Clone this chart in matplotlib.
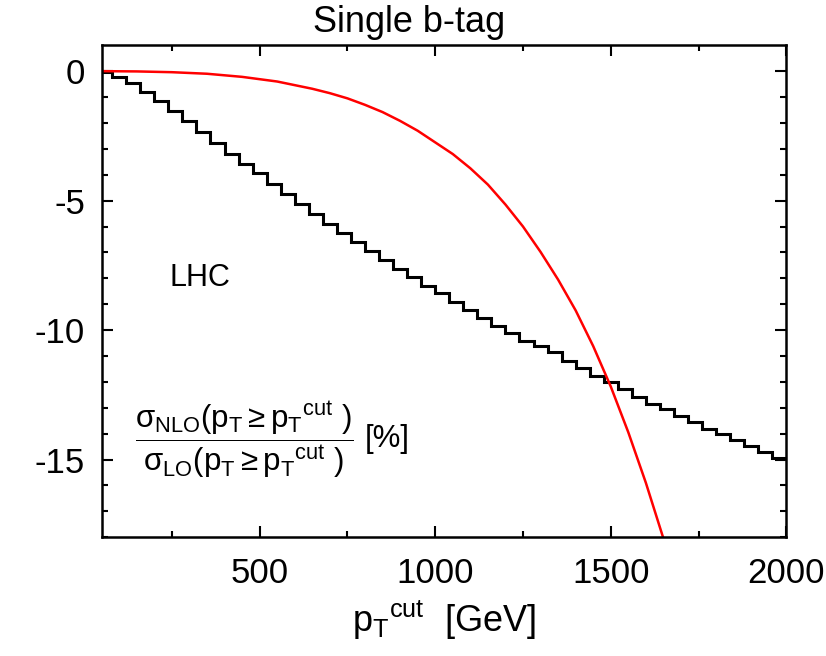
import numpy as np
import matplotlib
matplotlib.use("Agg")
import matplotlib.pyplot as plt

plt.rcParams['font.family'] = ['Liberation Sans', 'DejaVu Sans']
plt.rcParams['mathtext.fontset'] = 'custom'
plt.rcParams['mathtext.rm'] = 'Liberation Sans'
plt.rcParams['mathtext.it'] = 'Liberation Sans'
plt.rcParams['mathtext.bf'] = 'Liberation Sans'
plt.rcParams['mathtext.default'] = 'regular'
plt.rcParams['axes.unicode_minus'] = False

# black histogram: bin edges (GeV) and NLO/LO ratio [%]
bin_edges = [40, 80, 120, 160, 200, 240, 280, 320, 360, 400, 440, 480, 520, 560,
             600, 640, 680, 720, 760, 800, 840, 880, 920, 960, 1000, 1040, 1080,
             1120, 1160, 1200, 1240, 1280, 1320, 1360, 1400, 1440, 1480, 1520,
             1560, 1600, 1640, 1680, 1720, 1760, 1800, 1840, 1880, 1920, 1960, 2000]
hist_vals = [-0.05, -0.21, -0.47, -0.79, -1.15, -1.54, -1.93, -2.36, -2.76, -3.18,
             -3.60, -3.95, -4.34, -4.76, -5.12, -5.50, -5.89, -6.25, -6.60, -6.95,
             -7.30, -7.64, -7.93, -8.28, -8.58, -8.90, -9.22, -9.53, -9.83, -10.13,
             -10.41, -10.62, -10.86, -11.21, -11.48, -11.77, -12.00, -12.29, -12.59,
             -12.87, -13.06, -13.30, -13.55, -13.81, -14.03, -14.25, -14.48, -14.72,
             -14.92]

# red curve
red_x = [50, 150, 250, 350, 450, 550, 650, 700, 750, 800, 850, 900, 950, 1000,
         1050, 1100, 1150, 1200, 1250, 1300, 1350, 1400, 1450, 1500, 1550, 1600,
         1650, 1670]
red_y = [0.0, -0.01, -0.04, -0.10, -0.22, -0.40, -0.68, -0.85, -1.05, -1.30, -1.58,
         -1.92, -2.30, -2.75, -3.20, -3.75, -4.38, -5.15, -6.00, -6.98, -8.05,
         -9.24, -10.62, -12.18, -13.95, -15.90, -18.05, -18.95]

fig = plt.figure(figsize=(8.26, 6.56), dpi=100)
ax = fig.add_axes([0.123, 0.181, 0.829, 0.750])

ax.stairs(hist_vals, bin_edges, color='black', lw=2.2, baseline=None)
ax.plot(red_x, red_y, color='#ff0000', lw=1.8)

ax.set_xlim(50, 2000)
ax.set_ylim(-18, 1)
ax.set_xticks([500, 1000, 1500, 2000])
ax.set_xticks([250, 750, 1250, 1750], minor=True)
ax.set_yticks([0, -5, -10, -15])
ax.set_yticks(np.arange(-18, 1, 1), minor=True)
ax.tick_params(which='both', direction='in', top=True, right=True, width=1.5,
               labelsize=25)
ax.tick_params(which='major', length=8)
ax.tick_params(which='minor', length=4)
ax.tick_params(axis='x', pad=14)
ax.tick_params(axis='y', pad=12)
for s in ax.spines.values():
    s.set_linewidth(1.8)

ax.set_xlabel(r'$p_T{}^{cut}$  [GeV]', fontsize=26, labelpad=6)
fig.text(0.495, 0.965, 'Single b-tag', ha='center', va='center', fontsize=26)

ax.text(330, -8.0, 'LHC', ha='center', va='center', fontsize=22)
ax.text(145, -14.22,
        r'$\dfrac{\sigma_{NLO}(p_T \geq p_T{}^{cut}\ )}{\sigma_{LO}(p_T \geq p_T{}^{cut}\ )}$',
        ha='left', va='center', fontsize=22.5)
ax.text(800, -14.22, '[%]', ha='left', va='center', fontsize=22.5)

fig.savefig('out.png', dpi=100)
